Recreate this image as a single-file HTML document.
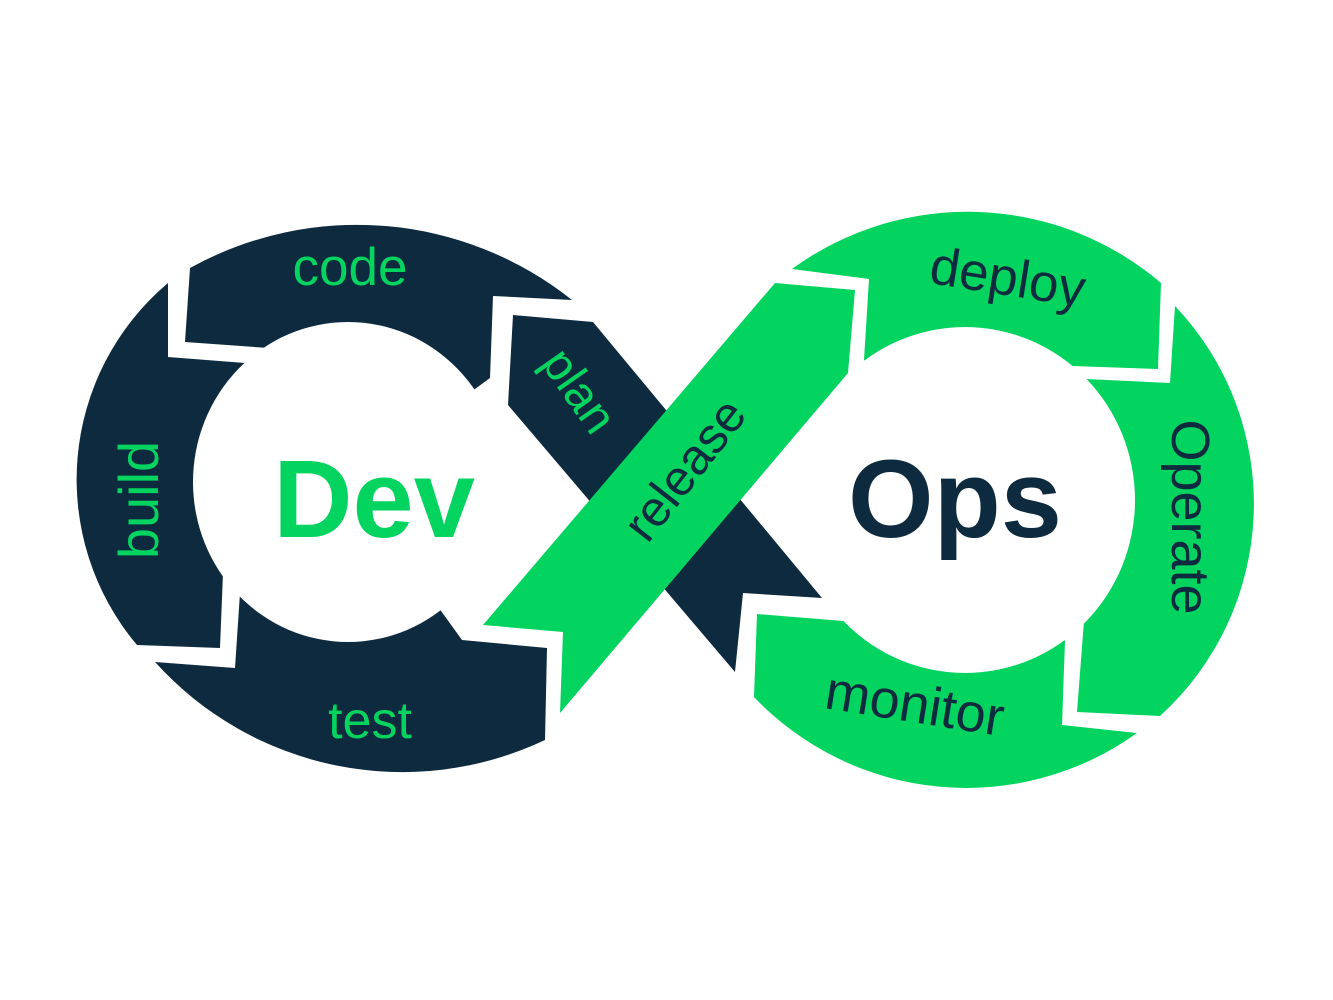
<!DOCTYPE html>
<html><head><meta charset="utf-8"><style>
html,body{margin:0;padding:0;background:#fff;}
svg{display:block;}
text{font-family:"Liberation Sans",sans-serif;}
</style></head><body>
<svg width="1333" height="1000" viewBox="0 0 1333 1000" xmlns="http://www.w3.org/2000/svg">
<rect width="1333" height="1000" fill="#fff"/>
<g fill="#0e2a3f">
  <path d="M190,268 A345,345 0 0 1 572,300 L493,296 L490,378 L348,482 L268,348 L185,342 Z"/>
  <path d="M168,283 A257,257 0 0 0 137,645 L220,648 L223,573 L348,482 L245,363 L168,357 Z"/>
  <path d="M155,662 A333,333 0 0 0 545,740 L547,648 L462,640 L348,482 L240,593 L235,668 Z"/>
</g>
<g fill="#03d35f">
  <path d="M792,269 A298,298 0 0 1 1161,283 L1158,369 L1072,366 L965,500 L864,360 L869,279 Z"/>
  <path d="M1175,306 A287,287 0 0 1 1160,716 L1077,712 L1084,621 L965,500 L1086,379 L1170,383 Z"/>
  <path d="M1137,733 A293,293 0 0 1 754,697 L757,614 L843,621 L965,500 L1065,641 L1062,725 Z"/>
</g>
<ellipse cx="348" cy="482" rx="155" ry="160" fill="#fff"/>
<ellipse cx="965" cy="500" rx="170" ry="173" fill="#fff"/>
<path d="M513,315 L593,322 L822,598 L743,593 L735,672 L508,405 Z" fill="#0e2a3f"/>
<path d="M775,283 L855,290 L848,373 L560,713 L563,632 L483,625 Z" fill="#03d35f"/>

<text x="350" y="285" font-size="53" fill="#03d35f" text-anchor="middle">code</text>
<text transform="translate(158,500) rotate(-90)" font-size="56" fill="#03d35f" text-anchor="middle">build</text>
<text x="370" y="738" font-size="52" fill="#03d35f" text-anchor="middle">test</text>
<text transform="translate(566,400) rotate(55)" font-size="48" fill="#03d35f" text-anchor="middle">plan</text>
<text transform="translate(698,480) rotate(-52)" font-size="50" fill="#0e2a3f" text-anchor="middle">release</text>
<text x="374" y="537" font-size="110" font-weight="bold" fill="#03d35f" text-anchor="middle">Dev</text>
<text x="955" y="537" font-size="110" font-weight="bold" fill="#0e2a3f" text-anchor="middle">Ops</text>
<text transform="translate(1005,295) rotate(9)" font-size="53" fill="#0e2a3f" text-anchor="middle">deploy</text>
<text transform="translate(1172,517) rotate(90)" font-size="54" fill="#0e2a3f" text-anchor="middle">Operate</text>
<text transform="translate(912,722) rotate(9)" font-size="54" fill="#0e2a3f" text-anchor="middle">monitor</text>
</svg>
</body></html>
